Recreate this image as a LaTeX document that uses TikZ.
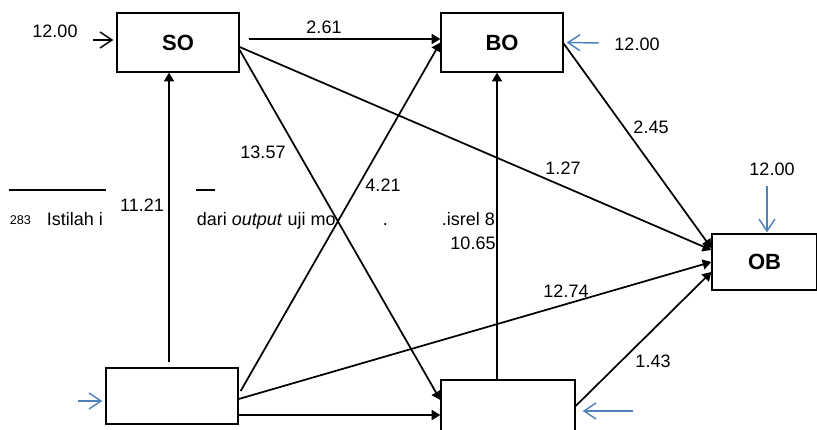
\documentclass[tikz,border=0pt]{standalone}
\usepackage{fontspec}
\setmainfont{Liberation Sans}
\usepackage{tikz}
\usetikzlibrary{arrows.meta}
\definecolor{err_blue}{RGB}{79,129,189}

\begin{document}
\begin{tikzpicture}[->,>={Triangle[length=6.5pt,width=7.5pt]},line width=1.3pt,x=0.75pt,y=-0.75pt]
    \tikzstyle{box}=[draw=black, rectangle, line width=1pt, minimum width=91.5pt, minimum height=44.25pt, fill=white, text=black, font=\fontsize{16.5}{18}\selectfont\bfseries]
    \tikzstyle{coef}=[text=black, inner sep=1pt, font=\fontsize{13.5}{15}\selectfont]
    \tikzstyle{note}=[text=black, inner sep=0pt, anchor=base west, font=\fontsize{13.5}{15}\selectfont]
    \tikzstyle{open}=[-{Straight Barb[length=9pt,width=12pt]}, line width=1.1pt]
    \tikzstyle{err}=[open, draw=err_blue]

    \useasboundingbox (0,0) rectangle (817,429);

    \draw[-,line width=1pt] (9,190) -- (106,190);
    \draw[-,line width=1pt] (196,190) -- (215,190);
    \node[note] (fn_num) at (9,224) {\fontsize{9.5}{10}\selectfont 283};
    \node[note] (fn_a) at (46,225) {Istilah i};
    \node[note] (fn_b) at (196,225) {dari \textit{output} uji mo};
    \node[note] (fn_c) at (382,225) {.};
    \node[note] (fn_d) at (441,225) {.isrel 8.};

    \node[box] (so) at (178,42.5) {SO};
    \node[box] (bo) at (502,42.5) {BO};
    \node[box, minimum width=78.75pt, minimum height=42pt] (ob) at (764.5,262) {OB};
    \node[box, minimum width=99pt, minimum height=42pt] (bl) at (172,396) {};
    \node[box, minimum width=100.5pt, minimum height=42pt] (br) at (508,408) {};

    \coordinate (so_in) at (93,40);
    \coordinate (bo_in) at (599,43);
    \coordinate (ob_in) at (767,186);
    \coordinate (bl_in) at (78,401);
    \coordinate (br_in) at (633,411);

    \path
     ([shift={(9,-3.5)}]so.east) edge ([shift={(0,-3.5)}]bo.west)
     ([shift={(0,4.5)}]so.east) edge ([shift={(0,-12)}]ob.west)
     ([shift={(0,7.5)}]so.east) edge ([shift={(0,-8)}]br.west)
     ([shift={(-3,-5)}]bl.north) edge ([shift={(-9,0)}]so.south)
     ([shift={(2,-5)}]bl.east) edge (bo.west)
     ([shift={(0,3)}]bl.east) edge (ob.west)
     ([shift={(0,19)}]bl.east) edge ([shift={(0,7)}]br.west)
     ([shift={(-11,0)}]br.north) edge ([shift={(-5,0)}]bo.south)
     ([shift={(0,-2)}]br.east) edge ([shift={(0,10)}]ob.west)
     ([shift={(0,1)}]bo.east) edge ([shift={(0,-14)}]ob.west)
     ;
    \path
     (so_in) edge[open] ([shift={(-3,-2.5)}]so.west)
     (bo_in) edge[err] ([shift={(3,0)}]bo.east)
     (ob_in) edge[err] ([shift={(2.5,-1)}]ob.north)
     (bl_in) edge[err] ([shift={(-3,5)}]bl.west)
     (br_in) edge[err] ([shift={(7,3)}]br.east)
     ;

    \node[coef] (so_e) at (55,31) {12.00};
    \node[coef] (bo_e) at (637,44) {12.00};
    \node[coef] (ob_e) at (772,169) {12.00};
    \node[coef] (so_bo) at (324,27) {2.61};
    \node[coef] (so_ob) at (563,168) {1.27};
    \node[coef] (so_br) at (263,152) {13.57};
    \node[coef] (bl_bo) at (383,185) {4.21};
    \node[coef] (bl_so) at (142,205) {11.21};
    \node[coef] (br_bo) at (473,243) {10.65};
    \node[coef] (bl_ob) at (566,291) {12.74};
    \node[coef] (br_ob) at (653,361) {1.43};
    \node[coef] (bo_ob) at (651,127) {2.45};
\end{tikzpicture}
\end{document}
